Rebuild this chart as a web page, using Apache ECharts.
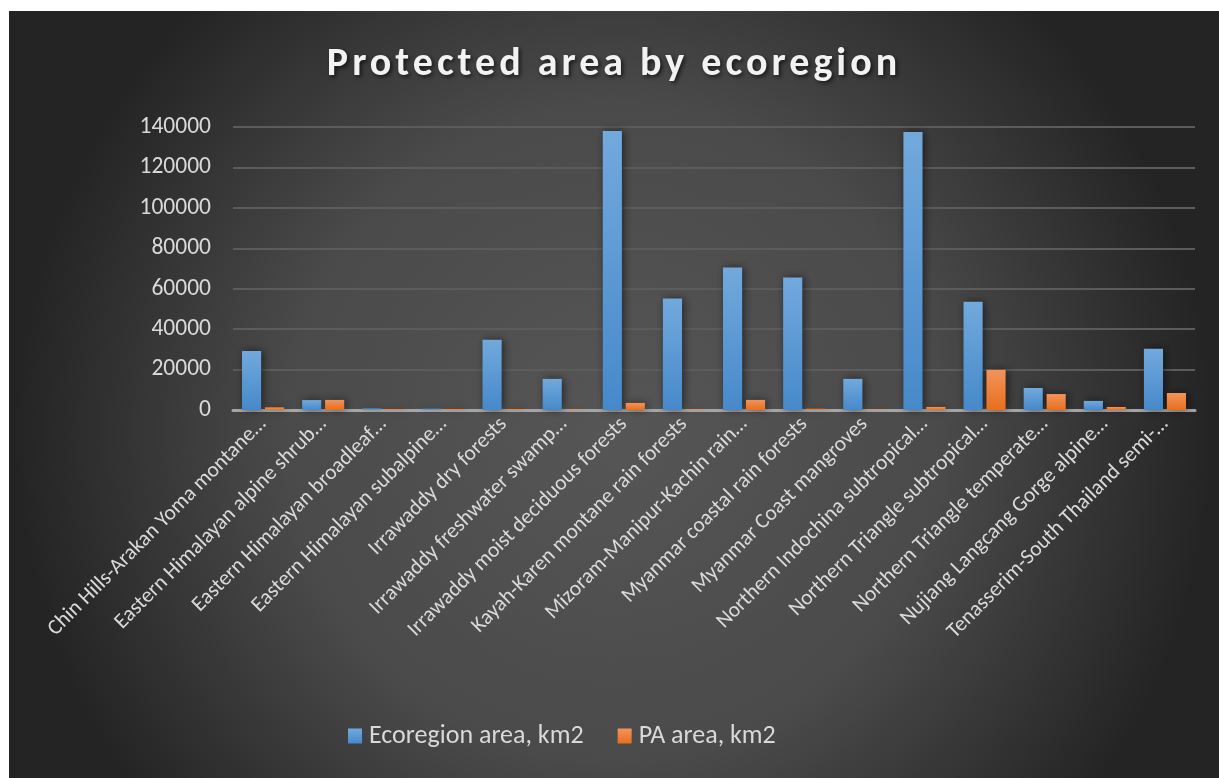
<!DOCTYPE html>
<html>
<head>
<meta charset="utf-8">
<script src="https://cdn.jsdelivr.net/npm/echarts@6/dist/echarts.min.js"></script>
<style>
  html, body { margin: 0; padding: 0; background: #ffffff; width: 1219px; height: 778px; overflow: hidden; }
  #chart { position: absolute; left: 9px; top: 11px; width: 1210px; height: 767px; }
</style>
</head>
<body>
<div id="chart"></div>
<script>
const titleText = 'Protected area by ecoregion';
const categories = [
  'Chin Hills-Arakan Yoma montane…',
  'Eastern Himalayan alpine shrub…',
  'Eastern Himalayan broadleaf…',
  'Eastern Himalayan subalpine…',
  'Irrawaddy dry forests',
  'Irrawaddy freshwater swamp…',
  'Irrawaddy moist deciduous forests',
  'Kayah-Karen montane rain forests',
  'Mizoram-Manipur-Kachin rain…',
  'Myanmar coastal rain forests',
  'Myanmar Coast mangroves',
  'Northern Indochina subtropical…',
  'Northern Triangle subtropical…',
  'Northern Triangle temperate…',
  'Nujiang Langcang Gorge alpine…',
  'Tenasserim-South Thailand semi-…'
];
const seriesNames = ['Ecoregion area, km2', 'PA area, km2'];
const ecoregionArea = [29200, 4900, 700, 600, 34750, 15400, 138000, 55100, 70500, 65500, 15400, 137500, 53600, 10900, 4500, 30300];
const paArea = [1300, 5000, 500, 500, 500, 300, 3500, 300, 5000, 600, 300, 1500, 19900, 7900, 1500, 8400];
const yMin = 0, yMax = 140000, yStep = 20000;

// widen the title's letter spacing (canvas-level), as in the reference
(function () {
  const proto = CanvasRenderingContext2D.prototype;
  const origFill = proto.fillText;
  const origStroke = proto.strokeText;
  function wrap(orig) {
    return function (text, x, y, maxW) {
      if (text === titleText && 'letterSpacing' in this) {
        const prev = this.letterSpacing;
        this.letterSpacing = '4px';
        const r = maxW === undefined ? orig.call(this, text, x, y) : orig.call(this, text, x, y, maxW);
        this.letterSpacing = prev;
        return r;
      }
      return maxW === undefined ? orig.call(this, text, x, y) : orig.call(this, text, x, y, maxW);
    };
  }
  proto.fillText = wrap(origFill);
  proto.strokeText = wrap(origStroke);
})();

const FONT = 'Carlito, Lato, "Open Sans", sans-serif';
const chart = echarts.init(document.getElementById('chart'), null, { renderer: 'canvas' });

function grad(top, bottom) {
  return new echarts.graphic.LinearGradient(0, 0, 0, 1, [
    { offset: 0, color: top }, { offset: 1, color: bottom }
  ]);
}
const blue = grad('#72a9dd', '#4689ca');
const orange = grad('#f2935b', '#e86f1c');

chart.setOption({
  backgroundColor: new echarts.graphic.RadialGradient(0.5, 0.55, 0.78, [
    { offset: 0, color: '#565656' },
    { offset: 0.55, color: '#4a4a4a' },
    { offset: 1, color: '#242424' }
  ]),
  title: {
    text: titleText,
    left: 'center',
    top: 29,
    textStyle: {
      color: '#f2f2f2', fontFamily: FONT, fontWeight: 'bold', fontSize: 40,
      textShadowColor: 'rgba(0,0,0,0.65)', textShadowBlur: 4, textShadowOffsetX: 2, textShadowOffsetY: 2
    }
  },
  legend: {
    bottom: 24,
    left: 334,
    itemWidth: 14, itemHeight: 15, itemGap: 34,
    icon: 'rect',
    textStyle: { color: '#d9d9d9', fontFamily: FONT, fontSize: 26, padding: [0, 0, 0, 2] },
    data: seriesNames
  },
  grid: { left: 224, right: 24, top: 116, bottom: 368, containLabel: false },
  xAxis: {
    type: 'category',
    data: categories,
    axisLine: { show: true, lineStyle: { color: '#a6a6a6', width: 3 } },
    axisTick: { show: false },
    axisLabel: { color: '#d9d9d9', fontFamily: FONT, fontSize: 21.5, rotate: 45, margin: 11, interval: 0 }
  },
  yAxis: {
    type: 'value',
    min: yMin, max: yMax, interval: yStep,
    axisLine: { show: false },
    axisTick: { show: false },
    splitLine: { lineStyle: { color: '#5c5c5c', width: 2 } },
    axisLabel: { color: '#d9d9d9', fontFamily: FONT, fontSize: 23.5, margin: 22, formatter: function (v) { return String(v); } }
  },
  series: [
    {
      name: seriesNames[0], type: 'bar', data: ecoregionArea,
      barGap: '20%', barCategoryGap: '30%',
      itemStyle: { color: blue, shadowColor: 'rgba(0,0,0,0.55)', shadowBlur: 8, shadowOffsetX: 2, shadowOffsetY: 0 }
    },
    {
      name: seriesNames[1], type: 'bar', data: paArea,
      barGap: '20%', barCategoryGap: '30%',
      itemStyle: { color: orange, shadowColor: 'rgba(0,0,0,0.55)', shadowBlur: 8, shadowOffsetX: 2, shadowOffsetY: 0 }
    }
  ],
  animation: false
});
</script>
</body>
</html>
